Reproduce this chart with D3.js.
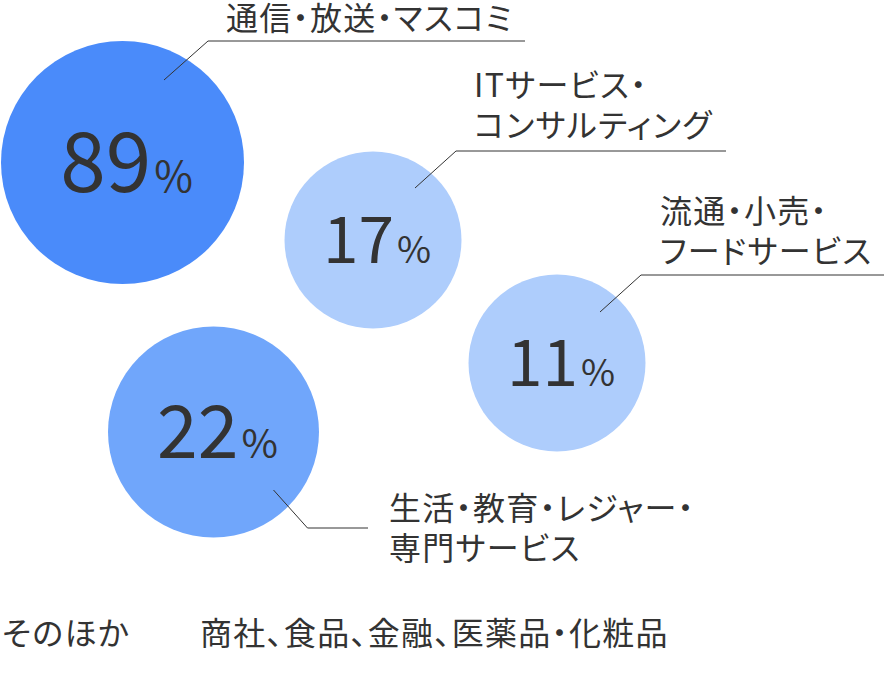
<!DOCTYPE html>
<html>
<head>
<meta charset="utf-8">
<script src="https://cdn.jsdelivr.net/npm/d3@7"></script>
<style>
  html, body { margin: 0; padding: 0; background: #fff; }
  svg text { font-family: "Noto Sans CJK JP", "Noto Sans", sans-serif; fill: #333; }
  svg text.jp { font-feature-settings: "palt"; letter-spacing: 1.3px; }
</style>
</head>
<body>
<div id="chart"></div>
<script>
// industries (label lines) and share values in %
var categories = [
    ["通信・放送・マスコミ"],
    ["ITサービス・", "コンサルティング"],
    ["流通・小売・", "フードサービス"],
    ["生活・教育・レジャー・", "専門サービス"]
];
var values = [89, 17, 11, 22];
var otherTitle = "そのほか";
var otherItems = "商社、食品、金融、医薬品・化粧品";

// where each bubble sits and how its leader line runs (px)
var layout = [
    { cx: 122.5, cy: 162.5, lead: [[164, 80], [208, 41], [525, 41]], label: [226, 30] },
    { cx: 373, cy: 240, lead: [[415, 188], [456, 151], [726, 151]], label: [474, 97] },
    { cx: 557, cy: 363, lead: [[600, 312], [641, 275], [884, 275]], label: [660, 223] },
    { cx: 213.5, cy: 432, lead: [[273.5, 490], [307.5, 528], [368, 528]], label: [389, 520] }
];

var width = 884, height = 679;
var labelSize = 32;

var svg = d3.select("#chart").append("svg")
    .attr("width", width)
    .attr("height", height);

// bubble size and colour step up with the value
var r = d3.scaleThreshold().domain([20, 50]).range([88.5, 105.5, 121.5]);
var color = d3.scaleThreshold().domain([20, 50]).range(["#aecdfc", "#70a6fb", "#4a8bfa"]);

// number font follows bubble size
var numSize = d3.scaleLinear().domain([88.5, 121.5]).range([64, 82]);
var pctSize = d3.scaleLinear().domain([88.5, 121.5]).range([37, 42]);

var data = values.map(function(v, i) {
    return { value: v, lines: categories[i], pos: layout[i] };
});

var bubbles = svg.selectAll(".bubble")
    .data(data)
    .enter()
    .append("g")
    .attr("class", "bubble");

bubbles.append("circle")
    .attr("cx", function(d) { return d.pos.cx; })
    .attr("cy", function(d) { return d.pos.cy; })
    .attr("r", function(d) { return r(d.value); })
    .attr("fill", function(d) { return color(d.value); });

//value label, big number + small percent sign
var num = bubbles.append("text")
    .attr("text-anchor", "middle")
    .attr("x", function(d) { return d.pos.cx + 4; })
    .attr("y", function(d) { return d.pos.cy + numSize(r(d.value)) * 0.36; });

num.append("tspan")
    .attr("font-size", function(d) { return numSize(r(d.value)); })
    .text(function(d) { return d.value; });

num.append("tspan")
    .attr("dx", 3)
    .attr("font-size", function(d) { return pctSize(r(d.value)); })
    .text("%");

// leader lines
var line = d3.line();
bubbles.append("path")
    .attr("d", function(d) { return line(d.pos.lead); })
    .attr("fill", "none")
    .attr("stroke", "#333")
    .attr("stroke-width", 1);

// category names, one text per line
bubbles.each(function(d) {
    var g = d3.select(this);
    d.lines.forEach(function(l, i) {
        g.append("text")
            .attr("class", "jp")
            .attr("font-size", labelSize)
            .attr("x", d.pos.label[0])
            .attr("y", d.pos.label[1] + i * 40)
            .text(l);
    });
});

// the rest
svg.append("text")
    .attr("class", "jp")
    .attr("font-size", labelSize)
    .attr("x", 2)
    .attr("y", 645)
    .text(otherTitle);

svg.append("text")
    .attr("class", "jp")
    .attr("font-size", labelSize)
    .attr("x", 200)
    .attr("y", 645)
    .text(otherItems);
</script>
</body>
</html>
